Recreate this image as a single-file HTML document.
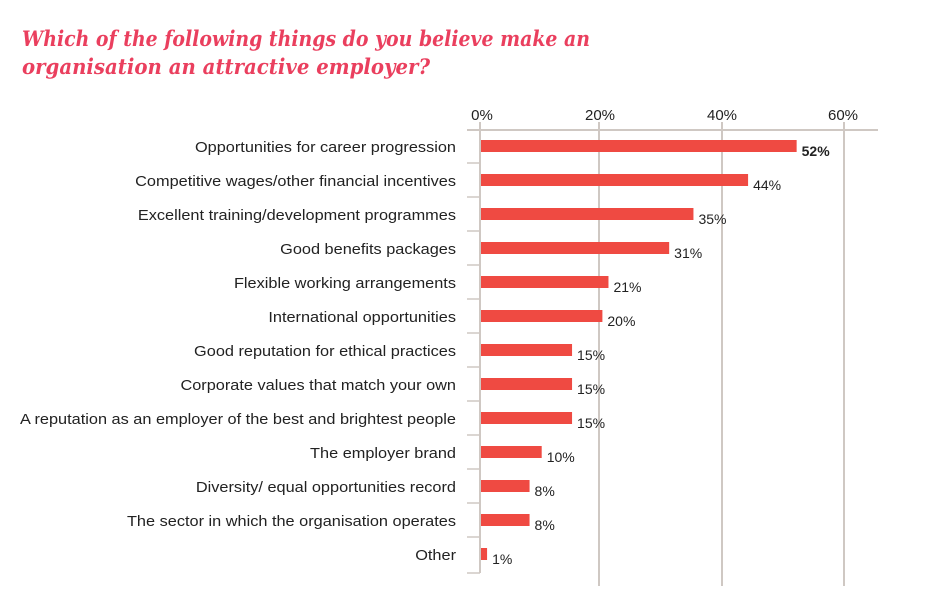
<!DOCTYPE html>
<html><head><meta charset="utf-8"><style>
body{margin:0;background:#fff;width:940px;height:586px;overflow:hidden;font-family:"Liberation Sans",sans-serif}
</style></head><body>
<svg width="940" height="586" xmlns="http://www.w3.org/2000/svg" font-family="Liberation Sans, sans-serif">
<text x="22" y="46" font-size="21" font-weight="bold" font-style="italic" fill="#ea3f5e" font-family="DejaVu Serif, serif" textLength="568" lengthAdjust="spacingAndGlyphs">Which of the following things do you believe make an</text>
<text x="22" y="74" font-size="21" font-weight="bold" font-style="italic" fill="#ea3f5e" font-family="DejaVu Serif, serif" textLength="408" lengthAdjust="spacingAndGlyphs">organisation an attractive employer?</text>
<g font-size="15" fill="#222" text-anchor="middle">
<text x="482" y="120">0%</text><text x="600" y="120">20%</text><text x="722" y="120">40%</text><text x="843" y="120">60%</text>
</g>
<g stroke="#cfc8c3" stroke-width="2">
<line x1="467" y1="130" x2="878" y2="130"/>
<line x1="480" y1="122" x2="480" y2="573"/>
<line x1="599" y1="122" x2="599" y2="586"/>
<line x1="722" y1="122" x2="722" y2="586"/>
<line x1="844" y1="122" x2="844" y2="586"/>
</g>
<g stroke="#cfc8c3" stroke-width="1.5" id="ticks"></g>
<g id="bars"></g>
</svg>
<script>
var d=[["Opportunities for career progression",52],["Competitive wages/other financial incentives",44],["Excellent training/development programmes",35],["Good benefits packages",31],["Flexible working arrangements",21],["International opportunities",20],["Good reputation for ethical practices",15],["Corporate values that match your own",15],["A reputation as an employer of the best and brightest people",15],["The employer brand",10],["Diversity/ equal opportunities record",8],["The sector in which the organisation operates",8],["Other",1]];
var ns="http://www.w3.org/2000/svg",g=document.getElementById("bars"),t=document.getElementById("ticks");
function el(n,a,p,tx){var e=document.createElementNS(ns,n);for(var k in a)e.setAttribute(k,a[k]);if(tx)e.textContent=tx;p.appendChild(e);return e;}
d.forEach(function(r,i){var c=146+i*34.0;var w=r[1]*6.07;
el("rect",{x:481,y:c-6,width:w,height:12,fill:"#ef4a42"},g);
var e=el("text",{x:456,y:c+6,"text-anchor":"end","font-size":"15",fill:"#222"},g,r[0]);
var L=e.getComputedTextLength();e.setAttribute("textLength",L*1.087);e.setAttribute("lengthAdjust","spacingAndGlyphs");
el("text",{x:481+w+5,y:c+10,"font-size":"14",fill:"#222","font-weight":i==0?"bold":"normal"},g,r[1]+"%");
if(i<12)el("line",{x1:467,y1:c+17,x2:480,y2:c+17},t);
});
el("line",{x1:467,y1:573,x2:480,y2:573},t);
</script>
</body></html>
